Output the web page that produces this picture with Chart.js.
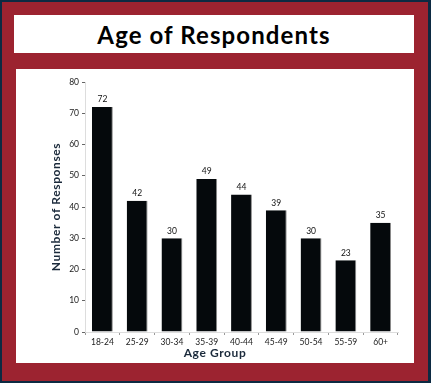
<!DOCTYPE html>
<html>
<head>
<meta charset="utf-8">
<script src="https://cdn.jsdelivr.net/npm/chart.js@4.4.0/dist/chart.umd.min.js"></script>
<style>
  body { margin: 0; }
  #frame {
    position: relative; width: 431px; height: 383px; box-sizing: border-box;
    background: #9c2330; border-style: solid; border-color: #0c2a42;
    border-width: 2px 3px 2px 2px;
  }
  #titleBox {
    position: absolute; left: 12px; top: 13px; width: 400px; height: 38px;
    background: #fff; display: flex; align-items: center; justify-content: center;
    font-family: Lato, "DejaVu Sans", sans-serif; font-weight: bold; font-size: 24px; color: #000;
    letter-spacing: 1.1px;
  }
  #chartBox {
    position: absolute; left: 14px; top: 67px; width: 398px; height: 294px; background: #fff;
  }
</style>
</head>
<body>
<div id="frame">
  <div id="titleBox">Age of Respondents</div>
  <div id="chartBox"><canvas id="ageChart" width="398" height="294"></canvas></div>
</div>
<script>
const ageGroups = ["18-24", "25-29", "30-34", "35-39", "40-44", "45-49", "50-54", "55-59", "60+"];
const responses = [72, 42, 30, 49, 44, 39, 30, 23, 35];
const yTicks = [0, 10, 20, 30, 40, 50, 60, 70, 80];

const tickFont = { family: "Lato, 'DejaVu Sans', sans-serif", size: 8.5 };
const titleFont = "bold 12px Lato, 'DejaVu Sans', sans-serif";

// value labels above the bars and the two axis titles
const labelsPlugin = {
  id: 'labels',
  afterDatasetsDraw(chart) {
    const ctx = chart.ctx;
    const meta = chart.getDatasetMeta(0);
    ctx.save();
    ctx.fillStyle = '#111';
    ctx.font = "8.5px Lato, 'DejaVu Sans', sans-serif";
    ctx.textAlign = 'center';
    ctx.textBaseline = 'bottom';
    meta.data.forEach((bar, i) => {
      ctx.fillText(responses[i], bar.x, bar.y - 3);
    });

    ctx.fillStyle = '#1b2a3b';
    ctx.font = titleFont;
    ctx.letterSpacing = '0.6px';
    ctx.textBaseline = 'middle';
    ctx.fillText('Age Group', chart.width / 2, 284);

    const area = chart.chartArea;
    ctx.translate(40, (area.top + area.bottom) / 2);
    ctx.rotate(-Math.PI / 2);
    ctx.fillText('Number of Responses', 0, 0);
    ctx.restore();
  }
};

new Chart(document.getElementById('ageChart'), {
  type: 'bar',
  data: {
    labels: ageGroups,
    datasets: [{
      data: responses,
      backgroundColor: '#05090c',
      borderColor: '#8a8a8a',
      borderWidth: { right: 1, top: 0, left: 0, bottom: 0 },
      borderSkipped: false,
      categoryPercentage: 1,
      barPercentage: 0.6
    }]
  },
  options: {
    responsive: false,
    animation: false,
    layout: { padding: { top: 13, right: 16, left: 0, bottom: 0 } },
    plugins: { legend: { display: false }, tooltip: { enabled: false } },
    scales: {
      x: {
        afterFit(scale) { scale.height = 31; },
        grid: { drawOnChartArea: false, tickLength: 3, color: '#999', offset: true },
        border: { color: '#ddd' },
        ticks: { color: '#222', font: tickFont, padding: 2, maxRotation: 0 }
      },
      y: {
        min: 0, max: 80,
        afterFit(scale) { scale.width = 69; },
        afterBuildTicks(scale) { scale.ticks = yTicks.map(v => ({ value: v })); },
        grid: { drawOnChartArea: false, tickLength: 3, color: '#666' },
        border: { color: '#ddd' },
        ticks: { color: '#222', font: tickFont, padding: 3 }
      }
    }
  },
  plugins: [labelsPlugin]
});
</script>
</body>
</html>
